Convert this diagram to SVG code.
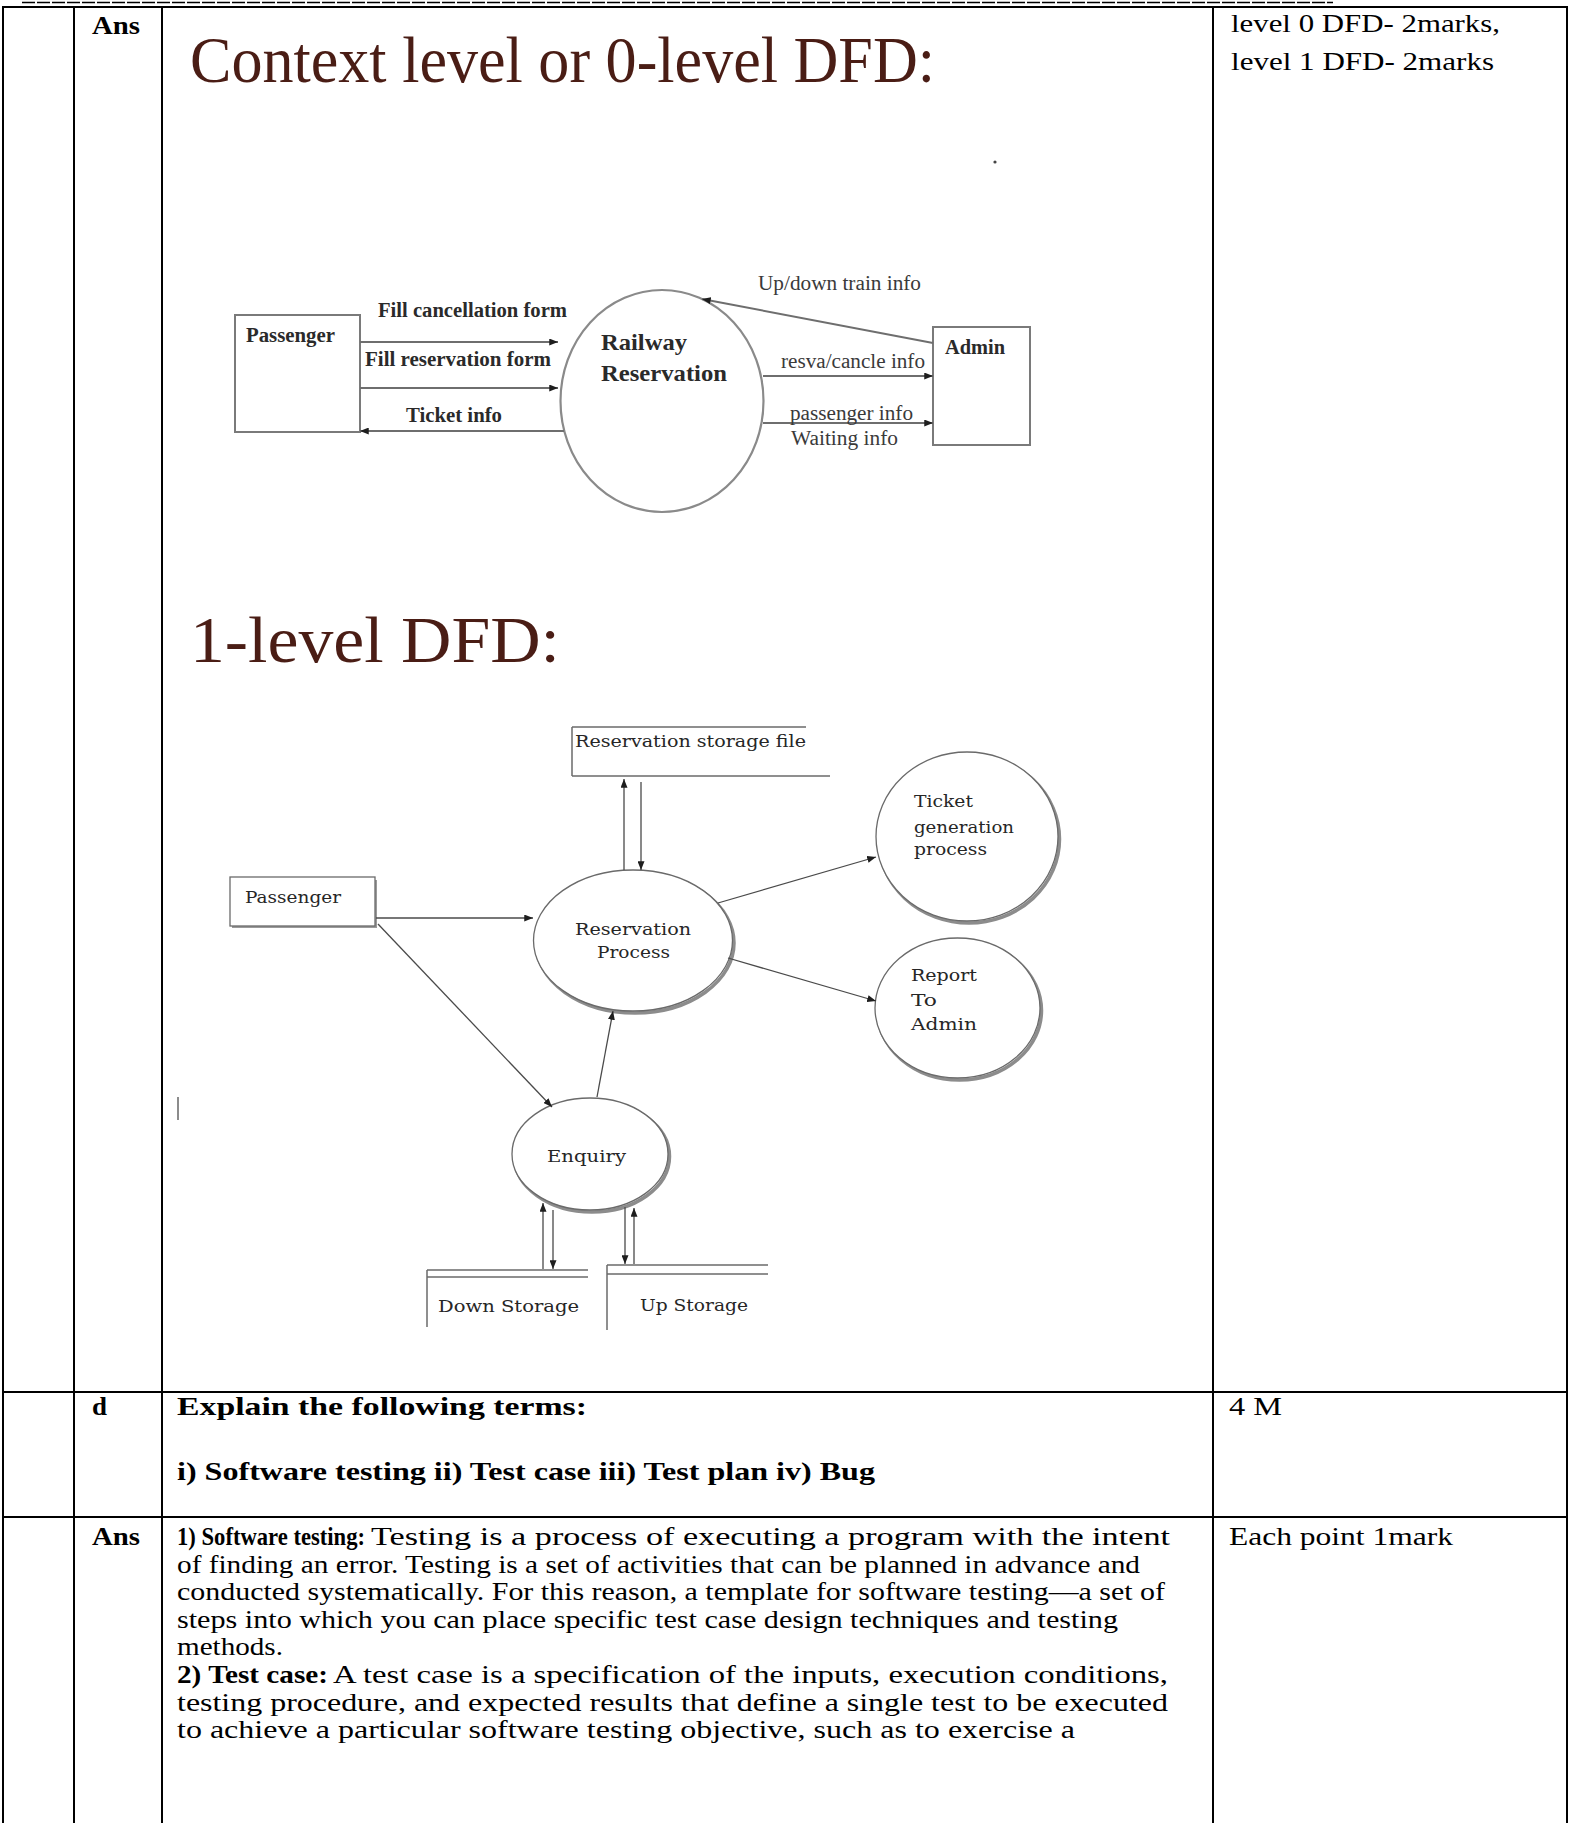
<svg xmlns="http://www.w3.org/2000/svg" width="1570" height="1823" viewBox="0 0 1570 1823">
  <defs>
    <marker id="arrow" viewBox="0 0 10 8" refX="10" refY="4" markerWidth="9" markerHeight="7" markerUnits="userSpaceOnUse" orient="auto">
      <path d="M0,0 L10,4 L0,8 z" fill="#1e1e1e"/>
    </marker>
    <style>
      .grid { stroke: #000; fill: none; stroke-width: 2; }
      .tb { font-family: "Liberation Serif", "Times New Roman", serif; font-weight: bold; font-size: 24.5px; fill: #000; }
      .tr { font-family: "Liberation Serif", "Times New Roman", serif; font-size: 24.5px; fill: #000; }
      .title { font-family: "Liberation Serif", "Times New Roman", serif; font-size: 65px; fill: #4a1d15; }
      .d0b { font-family: "Liberation Serif", "Times New Roman", serif; font-weight: bold; font-size: 20px; fill: #2a2a2a; }
      .d0big { font-family: "Liberation Serif", "Times New Roman", serif; font-weight: bold; font-size: 23px; fill: #2a2a2a; }
      .d0r { font-family: "Liberation Serif", "Times New Roman", serif; font-size: 20px; fill: #3a3a3a; }
      .d1 { font-family: "DejaVu Serif", "Liberation Serif", serif; font-size: 17px; fill: #262626; }
      .box0 { fill: #fff; stroke: #7a7a7a; stroke-width: 2; }
      .ell0 { fill: #fff; stroke: #8a8a8a; stroke-width: 2.2; }
      .flow0 { stroke: #6e6e6e; stroke-width: 2; fill: none; marker-end: url(#arrow); }
      .shade { fill: none; stroke: #8c8c8c; stroke-width: 3.5; }
      .node1 { fill: #fff; stroke: #6a6a6a; stroke-width: 1.3; }
      .flow1 { stroke: #4a4a4a; stroke-width: 1.3; fill: none; marker-end: url(#arrow); }
      .store { stroke: #6a6a6a; stroke-width: 1.5; fill: none; }
    </style>
  </defs>

  <rect width="1570" height="1823" fill="#fff"/>

  <!-- page rule and table grid -->
  <g id="table">
    <line x1="22" y1="2.5" x2="1333" y2="2.5" stroke="#000" stroke-width="1.5" stroke-dasharray="13 2"/>
    <line class="grid" x1="2" y1="7" x2="1568" y2="7" stroke-width="2.5"/>
    <line class="grid" x1="3" y1="6" x2="3" y2="1823"/>
    <line class="grid" x1="74" y1="6" x2="74" y2="1823"/>
    <line class="grid" x1="162" y1="6" x2="162" y2="1823" stroke-width="2.5"/>
    <line class="grid" x1="1213" y1="6" x2="1213" y2="1823"/>
    <line class="grid" x1="1567" y1="6" x2="1567" y2="1823"/>
    <line class="grid" x1="2" y1="1392" x2="1568" y2="1392"/>
    <line class="grid" x1="2" y1="1517" x2="1568" y2="1517"/>
  </g>

  <!-- table texts -->
  <g id="cells">
    <text class="tb" x="92" y="34" textLength="48" lengthAdjust="spacingAndGlyphs">Ans</text>
    <text class="tr" x="1231" y="32" textLength="269" lengthAdjust="spacingAndGlyphs">level  0 DFD- 2marks,</text>
    <text class="tr" x="1231" y="70" textLength="263" lengthAdjust="spacingAndGlyphs">level  1 DFD- 2marks</text>

    <text class="tb" x="92" y="1415" textLength="15" lengthAdjust="spacingAndGlyphs">d</text>
    <text class="tb" x="177" y="1415" textLength="410" lengthAdjust="spacingAndGlyphs">Explain  the  following  terms:</text>
    <text class="tb" x="177" y="1480" textLength="698" lengthAdjust="spacingAndGlyphs">i) Software  testing ii) Test case iii) Test plan iv) Bug</text>
    <text class="tr" x="1229" y="1415" textLength="53" lengthAdjust="spacingAndGlyphs">4 M</text>

    <text class="tb" x="92" y="1545" textLength="48" lengthAdjust="spacingAndGlyphs">Ans</text>
    <text class="tr" x="1229" y="1545" textLength="224" lengthAdjust="spacingAndGlyphs">Each point  1mark</text>

    <text class="tb" x="177" y="1545" textLength="188" lengthAdjust="spacingAndGlyphs">1) Software  testing:</text>
    <text class="tr" x="371" y="1545" textLength="799" lengthAdjust="spacingAndGlyphs">Testing  is a process of executing  a program with the intent</text>
    <text class="tr" x="177" y="1572.6" textLength="963" lengthAdjust="spacingAndGlyphs">of finding  an error. Testing  is a set of activities that can be planned  in advance  and</text>
    <text class="tr" x="177" y="1600.2" textLength="988" lengthAdjust="spacingAndGlyphs">conducted  systematically. For this  reason, a template for software testing—a set of</text>
    <text class="tr" x="177" y="1627.8" textLength="941" lengthAdjust="spacingAndGlyphs">steps into which you can place specific test case design techniques  and testing</text>
    <text class="tr" x="177" y="1655.4" textLength="106" lengthAdjust="spacingAndGlyphs">methods.</text>
    <text class="tb" x="177" y="1683" textLength="151" lengthAdjust="spacingAndGlyphs">2) Test case:</text>
    <text class="tr" x="333" y="1683" textLength="835" lengthAdjust="spacingAndGlyphs">A test case is a specification  of the inputs,  execution  conditions,</text>
    <text class="tr" x="177" y="1710.6" textLength="991" lengthAdjust="spacingAndGlyphs">testing  procedure, and expected results  that define  a single  test to be executed</text>
    <text class="tr" x="177" y="1738.2" textLength="898" lengthAdjust="spacingAndGlyphs">to achieve  a particular  software testing  objective,  such as to exercise  a</text>
  </g>

  <!-- headings -->
  <text class="title" x="190" y="82" textLength="745" lengthAdjust="spacingAndGlyphs">Context level or 0-level DFD:</text>
  <text class="title" x="190" y="662" textLength="370" lengthAdjust="spacingAndGlyphs">1-level DFD:</text>

  <!-- stray marks on the page -->
  <circle cx="995" cy="162" r="1.6" fill="#444"/>
  <line x1="178" y1="1097" x2="178" y2="1120" stroke="#666" stroke-width="1.5"/>

  <!-- context level DFD: nodes -->
  <g id="l0-passenger">
    <rect class="box0" x="235" y="315" width="125" height="117"/>
    <text class="d0b" x="246" y="342" textLength="89" lengthAdjust="spacingAndGlyphs">Passenger</text>
  </g>
  <g id="l0-railway-reservation">
    <ellipse class="ell0" cx="662" cy="401" rx="101.5" ry="111"/>
    <text class="d0big" x="601" y="350" textLength="86" lengthAdjust="spacingAndGlyphs">Railway</text>
    <text class="d0big" x="601" y="381" textLength="126" lengthAdjust="spacingAndGlyphs">Reservation</text>
  </g>
  <g id="l0-admin">
    <rect class="box0" x="933" y="327" width="97" height="118"/>
    <text class="d0b" x="945" y="354" textLength="60" lengthAdjust="spacingAndGlyphs">Admin</text>
  </g>

  <!-- context level DFD: flows -->
  <g id="l0-flows">
    <line class="flow0" x1="360" y1="342" x2="558" y2="342"/>
    <line class="flow0" x1="360" y1="388" x2="558" y2="388"/>
    <line class="flow0" x1="564" y1="431" x2="360" y2="431"/>
    <line class="flow0" x1="933" y1="343" x2="702" y2="299"/>
    <line class="flow0" x1="763" y1="376" x2="933" y2="376"/>
    <line class="flow0" x1="763" y1="423" x2="933" y2="423"/>
    <text class="d0b" x="378" y="317" textLength="189" lengthAdjust="spacingAndGlyphs">Fill cancellation form</text>
    <text class="d0b" x="365" y="366" textLength="186" lengthAdjust="spacingAndGlyphs">Fill reservation form</text>
    <text class="d0b" x="406" y="422" textLength="96" lengthAdjust="spacingAndGlyphs">Ticket info</text>
    <text class="d0r" x="758" y="290" textLength="163" lengthAdjust="spacingAndGlyphs">Up/down train info</text>
    <text class="d0r" x="781" y="368" textLength="144" lengthAdjust="spacingAndGlyphs">resva/cancle info</text>
    <text class="d0r" x="790" y="420" textLength="123" lengthAdjust="spacingAndGlyphs">passenger info</text>
    <text class="d0r" x="791" y="445" textLength="107" lengthAdjust="spacingAndGlyphs">Waiting info</text>
  </g>

  <!-- level 1 DFD: nodes -->
  <g id="l1-reservation-store">
    <line class="store" x1="572" y1="727" x2="806" y2="727" stroke-width="2.2"/>
    <line class="store" x1="572" y1="776" x2="830" y2="776"/>
    <line class="store" x1="572" y1="727" x2="572" y2="776"/>
    <text class="d1" x="575" y="747" textLength="231" lengthAdjust="spacingAndGlyphs">Reservation storage file</text>
  </g>
  <g id="l1-passenger">
    <rect x="232" y="880" width="145" height="48" fill="#9a9a9a"/>
    <rect class="node1" x="230" y="877" width="145" height="49"/>
    <text class="d1" x="245" y="903" textLength="96" lengthAdjust="spacingAndGlyphs">Passenger</text>
  </g>
  <g id="l1-reservation-process">
    <ellipse class="shade" cx="635" cy="943" rx="99" ry="70"/>
    <ellipse class="node1" cx="633" cy="940.5" rx="99.5" ry="70.5"/>
    <text class="d1" x="575" y="935" textLength="116" lengthAdjust="spacingAndGlyphs">Reservation</text>
    <text class="d1" x="597" y="958" textLength="73" lengthAdjust="spacingAndGlyphs">Process</text>
  </g>
  <g id="l1-ticket-generation">
    <ellipse class="shade" cx="969" cy="839" rx="90.5" ry="84"/>
    <ellipse class="node1" cx="967" cy="836.5" rx="91" ry="84.5"/>
    <text class="d1" x="914" y="807" textLength="59" lengthAdjust="spacingAndGlyphs">Ticket</text>
    <text class="d1" x="914" y="833" textLength="100" lengthAdjust="spacingAndGlyphs">generation</text>
    <text class="d1" x="914" y="855" textLength="73" lengthAdjust="spacingAndGlyphs">process</text>
  </g>
  <g id="l1-report-admin">
    <ellipse class="shade" cx="959.5" cy="1010.5" rx="82" ry="69.5"/>
    <ellipse class="node1" cx="957.5" cy="1008" rx="82.5" ry="70"/>
    <text class="d1" x="911" y="981" textLength="66" lengthAdjust="spacingAndGlyphs">Report</text>
    <text class="d1" x="911" y="1006" textLength="26" lengthAdjust="spacingAndGlyphs">To</text>
    <text class="d1" x="911" y="1030" textLength="66" lengthAdjust="spacingAndGlyphs">Admin</text>
  </g>
  <g id="l1-enquiry">
    <ellipse class="shade" cx="592" cy="1156.5" rx="77.5" ry="55.5"/>
    <ellipse class="node1" cx="590" cy="1154" rx="78" ry="56"/>
    <text class="d1" x="547" y="1162" textLength="79" lengthAdjust="spacingAndGlyphs">Enquiry</text>
  </g>
  <g id="l1-down-storage">
    <line class="store" x1="427" y1="1270" x2="588" y2="1270"/>
    <line class="store" x1="427" y1="1277" x2="588" y2="1277"/>
    <line class="store" x1="427" y1="1270" x2="427" y2="1327"/>
    <text class="d1" x="438" y="1312" textLength="141" lengthAdjust="spacingAndGlyphs">Down Storage</text>
  </g>
  <g id="l1-up-storage">
    <line class="store" x1="607" y1="1265" x2="768" y2="1265"/>
    <line class="store" x1="607" y1="1274" x2="768" y2="1274"/>
    <line class="store" x1="607" y1="1265" x2="607" y2="1330"/>
    <text class="d1" x="640" y="1311" textLength="108" lengthAdjust="spacingAndGlyphs">Up Storage</text>
  </g>

  <!-- level 1 DFD: flows -->
  <g id="l1-flows">
    <line class="flow1" x1="624" y1="870" x2="624" y2="779"/>
    <line class="flow1" x1="641" y1="782" x2="641" y2="870"/>
    <line class="flow1" x1="376" y1="918" x2="533" y2="918"/>
    <line class="flow1" x1="378" y1="924" x2="552" y2="1107"/>
    <line class="flow1" x1="597" y1="1097" x2="613" y2="1011"/>
    <line class="flow1" x1="718" y1="903" x2="876" y2="857"/>
    <line class="flow1" x1="728" y1="958" x2="876" y2="1001"/>
    <line class="flow1" x1="543" y1="1269" x2="543" y2="1203"/>
    <line class="flow1" x1="553" y1="1210" x2="553" y2="1269"/>
    <line class="flow1" x1="625" y1="1207" x2="625" y2="1264"/>
    <line class="flow1" x1="634" y1="1264" x2="634" y2="1208"/>
  </g>
</svg>
